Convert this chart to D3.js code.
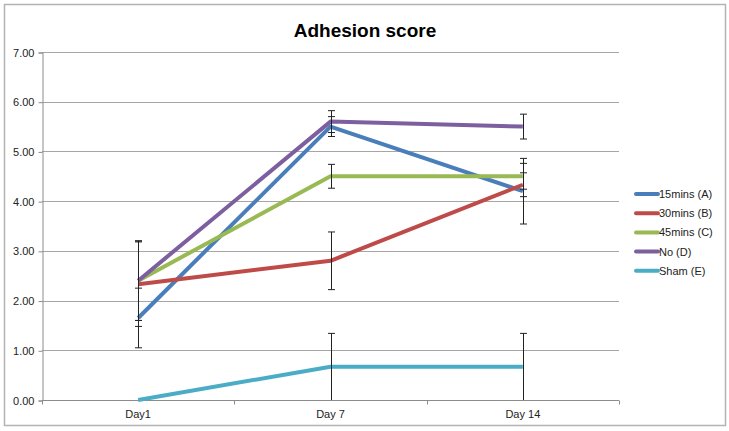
<!DOCTYPE html>
<html>
<head>
  <meta charset="utf-8" />
  <script src="https://d3js.org/d3.v7.min.js"></script>
  <style>
    * { margin: 0; padding: 0; }
    body { background: #fff; font-family: "Liberation Sans", Arial, sans-serif; }
  </style>
</head>
<body>
  <svg width="729" height="431"></svg>
  <script>
    // chart data
    const days = ["Day1", "Day 7", "Day 14"];
    const seriesNames = ["15mins (A)", "30mins (B)", "45mins (C)", "No (D)", "Sham (E)"];
    const seriesColors = ["#4a7ebb", "#be4b48", "#98b954", "#7d5fa0", "#4bacc6"];
    const scoreA = [1.65, 5.5, 4.2];
    const scoreB = [2.33, 2.8, 4.33];
    const scoreC = [2.4, 4.5, 4.5];
    const scoreD = [2.4, 5.6, 5.5];
    const scoreE = [0, 0.67, 0.67];
    // +/- error per point
    const errA = [0.6, 0.2, 0.66];
    const errB = [0.85, 0.58, 0.24];
    const errC = [0.8, 0.24, 0.26];
    const errD = [0.8, 0.22, 0.25];
    const errE = [0, 0.67, 0.67];
    const yTicks = [0, 1, 2, 3, 4, 5, 6, 7];

    const series = seriesNames.map((name, i) => ({
      name: name,
      color: seriesColors[i],
      values: [scoreA, scoreB, scoreC, scoreD, scoreE][i],
      errs: [errA, errB, errC, errD, errE][i]
    }));

    const svg = d3.select("svg");

    // outer frame
    svg.append("rect")
      .attr("x", 4.5).attr("y", 4.5)
      .attr("width", 721).attr("height", 421)
      .attr("fill", "#fff")
      .attr("stroke", "#b3b3b3")
      .attr("stroke-width", 1.5);

    svg.append("text")
      .attr("x", 365).attr("y", 37)
      .attr("text-anchor", "middle")
      .style("font-size", "19px")
      .style("font-weight", "bold")
      .text("Adhesion score");

    const x = d3.scaleBand().domain(days).range([42, 619]);
    const y = d3.scaleLinear().domain([0, 7]).range([400, 52]);
    const cx = d => x(d) + x.bandwidth() / 2;

    // gridlines
    svg.append("g")
      .selectAll("line")
      .data(yTicks)
      .join("line")
      .attr("x1", 42).attr("x2", 619)
      .attr("y1", d => Math.round(y(d)) + 0.5)
      .attr("y2", d => Math.round(y(d)) + 0.5)
      .attr("stroke", "#a6a6a6")
      .attr("stroke-width", 1);

    // y axis
    const yAxis = svg.append("g")
      .attr("transform", "translate(42.5,0.5)")
      .call(d3.axisLeft(y).tickValues(yTicks).tickSize(4).tickPadding(4).tickFormat(d3.format(".2f")));
    yAxis.selectAll("line, path").attr("stroke", "#8c8c8c");
    yAxis.selectAll("text").style("font-size", "11px").style("font-family", "Liberation Sans, Arial, sans-serif").attr("fill", "#222");

    // x axis with ticks on band edges
    const xAxis = svg.append("g").attr("transform", "translate(0,400.5)");
    xAxis.append("line")
      .attr("x1", 42).attr("x2", 619)
      .attr("stroke", "#8c8c8c");
    xAxis.selectAll("line.tk")
      .data(days.map(d => x(d)).concat([619]))
      .join("line")
      .attr("class", "tk")
      .attr("x1", d => Math.round(d) + 0.5).attr("x2", d => Math.round(d) + 0.5)
      .attr("y1", 0).attr("y2", 4)
      .attr("stroke", "#8c8c8c");
    xAxis.selectAll("text")
      .data(days)
      .join("text")
      .attr("x", d => cx(d))
      .attr("y", 17)
      .attr("text-anchor", "middle")
      .style("font-size", "11px")
      .attr("fill", "#222")
      .text(d => d);

    // lines
    const line = d3.line()
      .x((d, i) => cx(days[i]))
      .y(d => y(d));

    svg.append("g")
      .selectAll("path")
      .data(series)
      .join("path")
      .attr("d", s => line(s.values))
      .attr("fill", "none")
      .attr("stroke", s => s.color)
      .attr("stroke-width", 4)
      .attr("stroke-linejoin", "round");

    // error bars
    const errG = svg.append("g");
    series.forEach(s => {
      s.values.forEach((v, i) => {
        if (!s.errs[i]) return;
        const px = Math.round(cx(days[i])) + 0.5;
        const top = y(v + s.errs[i]);
        const bot = y(Math.max(0, v - s.errs[i]));
        errG.append("line")
          .attr("x1", px).attr("x2", px)
          .attr("y1", top).attr("y2", bot)
          .attr("stroke", "#222").attr("stroke-width", 1);
        [top, bot].forEach(yy => {
          if (Math.abs(yy - y(0)) < 0.5) return;
          errG.append("line")
            .attr("x1", px - 3.5).attr("x2", px + 3.5)
            .attr("y1", yy).attr("y2", yy)
            .attr("stroke", "#222").attr("stroke-width", 1);
        });
      });
    });

    // legend
    const legend = svg.append("g")
      .selectAll("g")
      .data(series)
      .join("g")
      .attr("transform", (d, i) => `translate(636,${194 + i * 19.2})`);
    legend.append("line")
      .attr("x1", 0).attr("x2", 22)
      .attr("stroke", d => d.color)
      .attr("stroke-width", 4)
      .attr("stroke-linecap", "round");
    legend.append("text")
      .attr("x", 23).attr("y", 4)
      .style("font-size", "11px")
      .attr("fill", "#222")
      .text(d => d.name);
  </script>
</body>
</html>
